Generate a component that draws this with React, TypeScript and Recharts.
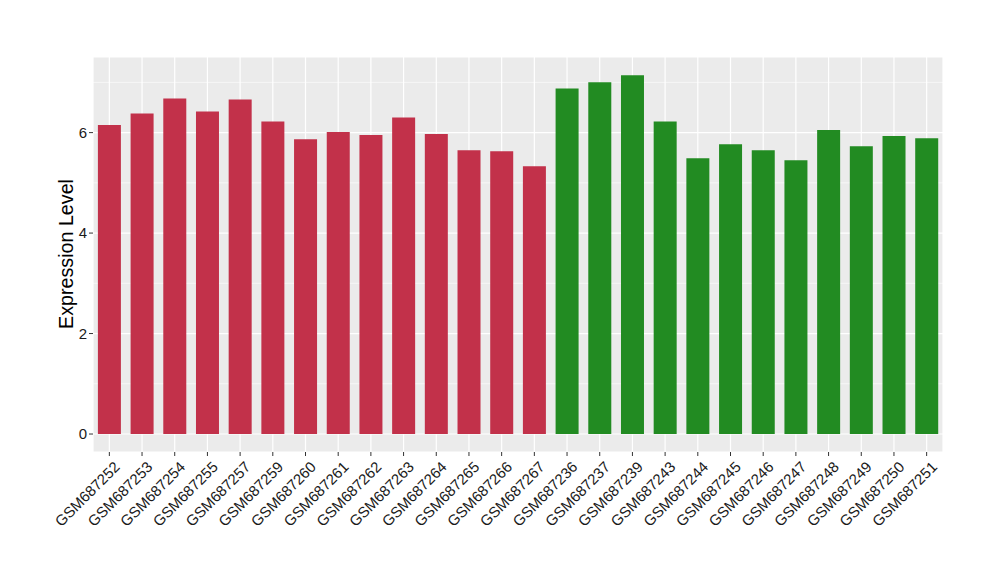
import { BarChart, Bar, XAxis, YAxis, CartesianGrid, Cell } from "recharts";

const samples = [
  "GSM687252", "GSM687253", "GSM687254", "GSM687255", "GSM687257", "GSM687259",
  "GSM687260", "GSM687261", "GSM687262", "GSM687263", "GSM687264", "GSM687265",
  "GSM687266", "GSM687267", "GSM687236", "GSM687237", "GSM687239", "GSM687243",
  "GSM687244", "GSM687245", "GSM687246", "GSM687247", "GSM687248", "GSM687249",
  "GSM687250", "GSM687251",
];

const values = [
  6.15, 6.38, 6.68, 6.42, 6.66, 6.22, 5.87, 6.01, 5.95, 6.3, 5.97, 5.65, 5.63,
  5.33, 6.88, 7.0, 7.14, 6.22, 5.49, 5.77, 5.65, 5.45, 6.05, 5.73, 5.93, 5.89,
];

const groups = [
  "a", "a", "a", "a", "a", "a", "a", "a", "a", "a", "a", "a", "a", "a",
  "b", "b", "b", "b", "b", "b", "b", "b", "b", "b", "b", "b",
];

const majorTicks = [0, 2, 4, 6];
const minorTicks = [1, 3, 5, 7];

const groupColors: Record<string, string> = { a: "#C2314A", b: "#228B22" };
const FONT = "'Liberation Sans', Arial, sans-serif";

const data = samples.map((s, i) => ({ sample: s, value: values[i], group: groups[i] }));

function SampleTick(props: any) {
  const { x, y, payload } = props;
  const ax = x + 3.5;
  const ay = y + 2;
  return (
    <text
      x={ax}
      y={ay}
      textAnchor="end"
      transform={`rotate(-45, ${ax}, ${ay})`}
      fontSize={15}
      fontFamily={FONT}
      fill="#1a1a1a"
      dominantBaseline="hanging"
    >
      {payload.value}
    </text>
  );
}

function YLabel(props: any) {
  const vb = props.viewBox;
  const cx = vb.x + vb.width - 27;
  const cy = 254;
  return (
    <text
      x={cx}
      y={cy}
      textAnchor="middle"
      dominantBaseline="central"
      transform={`rotate(-90, ${cx}, ${cy})`}
      fontSize={19.7}
      fontFamily={FONT}
      fill="#000"
    >
      Expression Level
    </text>
  );
}

export default function App() {
  return (
    <div style={{ position: "absolute", left: 0, top: 0, width: 1000, height: 580, background: "#fff" }}>
      <BarChart
        width={1000}
        height={580}
        data={data}
        margin={{ top: 57, right: 57, bottom: 0, left: 0 }}
        barCategoryGap="15%"
      >
        <CartesianGrid fill="#EBEBEB" stroke="#FFFFFF" strokeWidth={1.2} />
        <CartesianGrid
          vertical={false}
          horizontalValues={minorTicks}
          stroke="#FFFFFF"
          strokeWidth={0.6}
        />
        <XAxis
          dataKey="sample"
          interval={0}
          height={128}
          axisLine={false}
          tickSize={4}
          tickLine={{ stroke: "#333" }}
          tick={<SampleTick />}
        />
        <YAxis
          type="number"
          domain={[-0.358, 7.505]}
          allowDataOverflow
          ticks={majorTicks}
          width={93}
          axisLine={false}
          tickSize={4}
          tickLine={{ stroke: "#333" }}
          tick={{ fontSize: 15, fill: "#1a1a1a", fontFamily: FONT }}
          label={<YLabel />}
        />
        <Bar dataKey="value" isAnimationActive={false}>
          {data.map((d) => (
            <Cell key={d.sample} fill={groupColors[d.group]} />
          ))}
        </Bar>
      </BarChart>
    </div>
  );
}
